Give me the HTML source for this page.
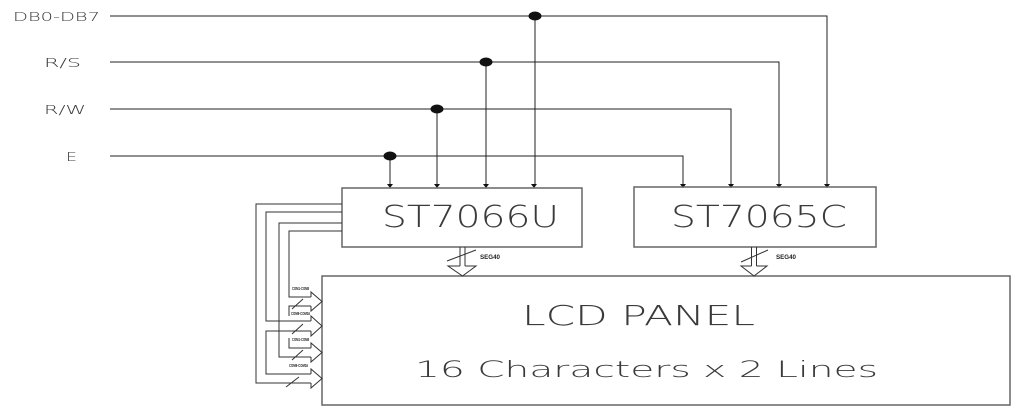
<!DOCTYPE html>
<html><head><meta charset="utf-8"><style>
html,body{margin:0;padding:0;background:#fff;}
svg{display:block;}
text{font-family:"DejaVu Sans","Liberation Sans",sans-serif;font-weight:200;fill:#3a3a3a;}
.s{font-family:"Liberation Sans",sans-serif;font-weight:bold;fill:#222;}
</style></head><body>
<svg width="1024" height="413" viewBox="0 0 1024 413" xmlns="http://www.w3.org/2000/svg">
<g fill="none" stroke="#222" stroke-width="1">
<!-- signal lines -->
<polyline points="110,16 827,16 827,185"/>
<polyline points="110,62 779,62 779,185"/>
<polyline points="110,109 731,109 731,185"/>
<polyline points="110,156 683,156 683,185"/>
<line x1="535" y1="16" x2="535" y2="185"/>
<line x1="486" y1="62" x2="486" y2="185"/>
<line x1="437" y1="109" x2="437" y2="185"/>
<line x1="390" y1="156" x2="390" y2="185"/>
</g>
<g fill="#111">
<ellipse cx="535" cy="16" rx="6.5" ry="4.5"/>
<ellipse cx="486" cy="62" rx="6.5" ry="4.5"/>
<ellipse cx="437" cy="109" rx="6.5" ry="4.5"/>
<ellipse cx="390" cy="156" rx="6.5" ry="4.5"/>
<polygon points="387,184 393,184 390,188"/>
<polygon points="434,184 440,184 437,188"/>
<polygon points="483,184 489,184 486,188"/>
<polygon points="531,184 537,184 534,188"/>
<polygon points="680,184 686,184 683,188"/>
<polygon points="728,184 734,184 731,188"/>
<polygon points="776,184 782,184 779,188"/>
<polygon points="824,184 830,184 827,188"/>
</g>
<!-- boxes -->
<g fill="none" stroke="#666" stroke-width="1.5">
<rect x="342" y="188" width="240" height="59"/>
<rect x="634" y="187" width="242" height="60"/>
<rect x="322" y="276" width="688" height="129"/>
</g>
<!-- SEG buses -->
<g fill="none" stroke="#333" stroke-width="1">
<line x1="460" y1="247" x2="460" y2="266"/>
<line x1="465" y1="247" x2="465" y2="266"/>
<polyline points="460,266 448,266 462.5,276 476,266 465,266"/>
<line x1="447" y1="261" x2="476" y2="250"/>
<line x1="751.5" y1="247" x2="751.5" y2="266"/>
<line x1="756.5" y1="247" x2="756.5" y2="266"/>
<polyline points="751.5,266 741,266 754,276 767,266 756.5,266"/>
<line x1="741" y1="262" x2="768" y2="250"/>
</g>
<text class="s" x="480" y="259" font-size="6" textLength="20" lengthAdjust="spacingAndGlyphs">SEG40</text>
<text class="s" x="776" y="259" font-size="6" textLength="20" lengthAdjust="spacingAndGlyphs">SEG40</text>
<!-- COM buses -->
<g fill="none" stroke="#333" stroke-width="1">
<polyline points="342,204 256,204 256,383 311,383"/>
<polyline points="342,212 266,212 266,321 311,321"/>
<polyline points="311,331 266,331 266,374 311,374"/>
<polyline points="342,223 279,223 279,357 311,357"/>
<polyline points="342,231 289,231 289,297 311,297"/>
<polyline points="311,306 289,306 289,316"/>
<polyline points="289,338 289,348 311,348"/>
<!-- heads -->
<polyline points="311,297 311,292 322,301.5 311,311 311,306"/>
<polyline points="311,321 311,316 322,326 311,336 311,331"/>
<polyline points="311,348 311,343 322,352.5 311,362 311,357"/>
<polyline points="311,374 311,369 322,378.5 311,388 311,383"/>
<!-- slashes -->
<line x1="292" y1="309" x2="303" y2="299"/>
<line x1="292" y1="334" x2="303" y2="324"/>
<line x1="292" y1="360" x2="303" y2="350"/>
<line x1="286" y1="387" x2="299" y2="377"/>
</g>
<g class="s" font-size="4.5">
<text class="s" x="292" y="290" font-size="4.5" textLength="17" lengthAdjust="spacingAndGlyphs">COM1-COM8</text>
<text class="s" x="291" y="315" font-size="4.5" textLength="19" lengthAdjust="spacingAndGlyphs">COM9-COM16</text>
<text class="s" x="292" y="341" font-size="4.5" textLength="17" lengthAdjust="spacingAndGlyphs">COM1-COM8</text>
<text class="s" x="289" y="367" font-size="4.5" textLength="19" lengthAdjust="spacingAndGlyphs">COM9-COM16</text>
</g>
<!-- labels -->
<text x="13" y="21" font-size="12.5" textLength="87" lengthAdjust="spacingAndGlyphs">DB0-DB7</text>
<text x="44" y="67" font-size="12.5" textLength="37" lengthAdjust="spacingAndGlyphs">R/S</text>
<text x="44" y="114" font-size="12.5" textLength="42" lengthAdjust="spacingAndGlyphs">R/W</text>
<text x="66" y="161" font-size="12.5" textLength="11" lengthAdjust="spacingAndGlyphs">E</text>
<text x="382" y="227" font-size="30" textLength="177" lengthAdjust="spacingAndGlyphs">ST7066U</text>
<text x="671" y="227" font-size="30" textLength="176" lengthAdjust="spacingAndGlyphs">ST7065C</text>
<text x="522" y="325" font-size="27.5" textLength="233" lengthAdjust="spacingAndGlyphs">LCD PANEL</text>
<text x="415" y="377" font-size="22" textLength="463" lengthAdjust="spacingAndGlyphs">16 Characters x 2 Lines</text>
</svg>
</body></html>
